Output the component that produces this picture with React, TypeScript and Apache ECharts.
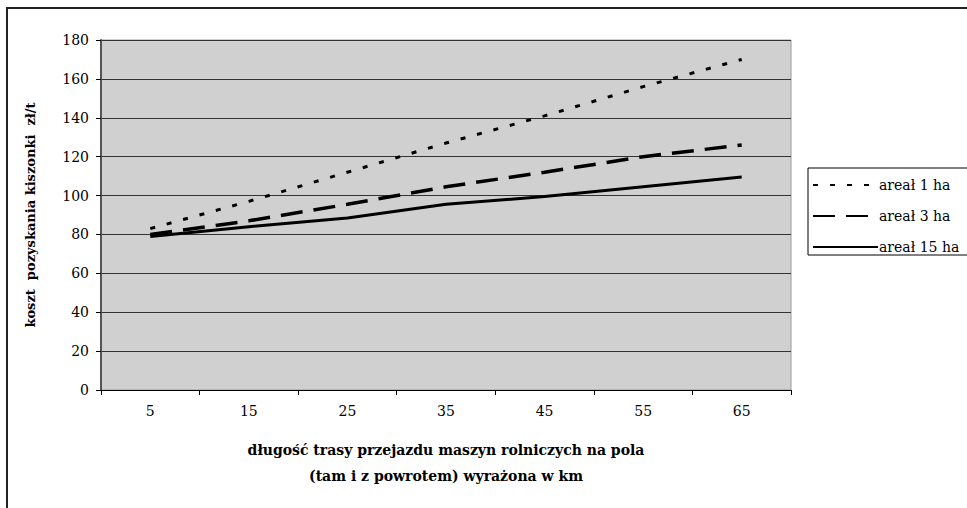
import React, { useEffect, useRef } from "react";
import * as echarts from "echarts";

// Route length (km) on the category axis
const distances = ["5", "15", "25", "35", "45", "55", "65"];

// Silage harvesting cost, zł/t
const area1ha = [83, 97, 112, 127, 141, 156, 170];
const area3ha = [80, 87, 95.5, 104.5, 112, 120, 126];
const area15ha = [79, 84, 88.5, 95.5, 99.5, 104.5, 109.5];

const seriesNames = ["areał 1 ha", "areał 3 ha", "areał 15 ha"];

const FONT = "DejaVu Serif";

export default function App() {
  const ref = useRef<HTMLDivElement>(null);

  useEffect(() => {
    document.body.style.margin = "0";
    if (!ref.current) return;
    const chart = echarts.init(ref.current, undefined, { renderer: "svg" });

    chart.setOption({
      animation: false,
      backgroundColor: "#ffffff",
      grid: { left: 101, right: 176, top: 40, bottom: 118, show: true, backgroundColor: "#d0d0d0", borderColor: "#9a9a9a", borderWidth: 1 },
      graphic: [
        {
          type: "rect",
          shape: { x: 7, y: 8, width: 1100, height: 600 },
          style: { fill: "none", stroke: "#222", lineWidth: 2 },
          z: -10,
          silent: true,
        },
      ],
      legend: {
        orient: "vertical",
        left: 808,
        top: 168,
        padding: [10, 40, 1, 4],
        itemWidth: 65,
        itemHeight: 14,
        itemGap: 17,
        borderColor: "#000",
        borderWidth: 1,
        backgroundColor: "#fff",
        data: seriesNames,
        itemStyle: { color: "rgba(0,0,0,0)", borderWidth: 0 },
        textStyle: { fontFamily: FONT, fontSize: 14, color: "#000", padding: [0, 0, 0, -4] },
      },
      xAxis: {
        type: "category",
        data: distances,
        boundaryGap: true,
        axisLine: { lineStyle: { color: "#000", width: 1 } },
        axisTick: { show: true, length: 5, lineStyle: { color: "#000" } },
        axisLabel: { fontFamily: FONT, fontSize: 14, color: "#000", margin: 14 },
        name: "długość trasy przejazdu maszyn rolniczych na pola\n(tam i z powrotem) wyrażona w km",
        nameLocation: "middle",
        nameGap: 47,
        nameTextStyle: { fontFamily: FONT, fontSize: 14, fontWeight: "bold", color: "#000", lineHeight: 26 },
      },
      yAxis: {
        type: "value",
        min: 0,
        max: 180,
        interval: 20,
        axisLine: { show: true, lineStyle: { color: "#555", width: 2 } },
        axisTick: { show: true, length: 5, lineStyle: { color: "#000" } },
        axisLabel: { fontFamily: FONT, fontSize: 14, color: "#000", margin: 12 },
        splitLine: { show: true, lineStyle: { color: "#333", width: 1 } },
        name: "koszt  pozyskania kiszonki  zł/t",
        nameLocation: "middle",
        nameGap: 64,
        nameTextStyle: { fontFamily: FONT, fontSize: 13, fontWeight: "bold", color: "#000" },
      },
      series: [
        {
          name: seriesNames[0],
          type: "line",
          data: area1ha,
          symbol: "none",
          color: "#000",
          lineStyle: { color: "#000", width: 3, type: [5, 12] },
        },
        {
          name: seriesNames[1],
          type: "line",
          data: area3ha,
          symbol: "none",
          color: "#000",
          lineStyle: { color: "#000", width: 3.5, type: [22, 11] },
        },
        {
          name: seriesNames[2],
          type: "line",
          data: area15ha,
          symbol: "none",
          color: "#000",
          lineStyle: { color: "#000", width: 3, type: "solid" },
        },
      ],
    });

    return () => chart.dispose();
  }, []);

  return <div ref={ref} style={{ width: 967, height: 508 }} />;
}
